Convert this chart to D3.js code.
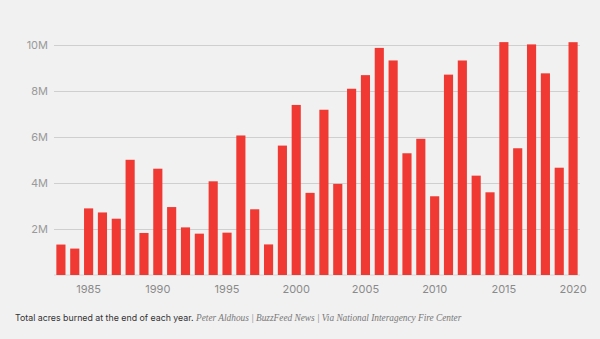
<!DOCTYPE html>
<html>
<head>
<meta charset="utf-8">
<script src="https://cdn.jsdelivr.net/npm/d3@7"></script>
<style>
  body { margin: 0; background: #f1f1f1; }
  svg { display: block; }
</style>
</head>
<body>
<svg id="drawing_region"></svg>
<script>
const years = d3.range(1983, 2021);
const acres = [
    1323666, 1148409, 2896147, 2719162, 2447296, 5009290, 1827310, 4621621,
    2953578, 2069929, 1797574, 4073579, 1840546, 6065998, 2856959, 1329704,
    5626093, 7393493, 3570911, 7184712, 3960842, 8097880, 8689389, 9873745,
    9328045, 5292468, 5921786, 3422724, 8711367, 9326238, 4319546, 3595613,
    10125149, 5509995, 10026086, 8767492, 4664364, 10122336
];
const yTicks = [2e6, 4e6, 6e6, 8e6, 10e6];
const xTicks = [1985, 1990, 1995, 2000, 2005, 2010, 2015, 2020];

const data = years.map((y, i) => ({year: y, value: acres[i]}));

const width = 600, height = 339;
const margin = {top: 45, right: 20, bottom: 64, left: 54};
const inner_width = width - margin.left - margin.right;
const inner_height = height - margin.top - margin.bottom;

const svg = d3.select('#drawing_region')
    .attr('width', width)
    .attr('height', height);

const chart = svg.append('g')
    .attr('transform', `translate(${margin.left}, ${margin.top})`);

const xscale = d3.scaleBand()
    .domain(years)
    .range([0, 526])
    .paddingInner(0.34)
    .paddingOuter(0.17);

const yscale = d3.scaleLinear()
    .domain([0, 10e6])
    .range([inner_height, 0]);

// horizontal grid with labels on the left
const yaxis = d3.axisLeft(yscale)
    .tickValues(yTicks)
    .tickSize(-526)
    .tickPadding(6)
    .tickFormat(d => (d / 1e6) + 'M');

chart.append('g')
    .call(yaxis)
    .call(g => g.select('.domain').remove())
    .call(g => g.selectAll('.tick line').attr('stroke', '#cfcfcf'))
    .call(g => g.selectAll('.tick text')
        .attr('fill', '#9a9a9a')
        .attr('font-family', 'Inter, sans-serif')
        .attr('font-size', 11));

chart.append('line')
    .attr('x1', 0).attr('x2', 526)
    .attr('y1', inner_height).attr('y2', inner_height)
    .attr('stroke', '#d6d6d6');

chart.selectAll('rect')
    .data(data)
    .enter()
    .append('rect')
    .attr('x', d => xscale(d.year))
    .attr('y', d => yscale(d.value))
    .attr('width', xscale.bandwidth())
    .attr('height', d => inner_height - yscale(d.value))
    .attr('fill', '#ef3932');

const xaxis = d3.axisBottom(xscale)
    .tickValues(xTicks)
    .tickSize(0)
    .tickPadding(10);

chart.append('g')
    .attr('transform', `translate(0, ${inner_height})`)
    .call(xaxis)
    .call(g => g.select('.domain').remove())
    .call(g => g.selectAll('.tick text')
        .attr('fill', '#8a8a8a')
        .attr('font-family', 'Inter, sans-serif')
        .attr('font-size', 11));

const caption = svg.append('text')
    .attr('x', 15)
    .attr('y', 321);
caption.append('tspan')
    .attr('fill', '#333')
    .attr('font-family', 'Inter, sans-serif')
    .attr('font-size', 8.8)
    .text('Total acres burned at the end of each year. ');
caption.append('tspan')
    .attr('fill', '#777')
    .attr('font-family', '"Liberation Serif", serif')
    .attr('font-style', 'italic')
    .attr('font-size', 9.3)
    .text('Peter Aldhous | BuzzFeed News | Via National Interagency Fire Center');
</script>
</body>
</html>
